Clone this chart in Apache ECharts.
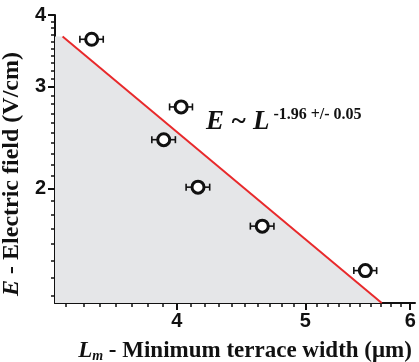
<!DOCTYPE html>
<html>
<head>
<meta charset="utf-8">
<script src="https://cdn.jsdelivr.net/npm/echarts@6/dist/echarts.min.js"></script>
<style>
  html, body { margin: 0; padding: 0; background: #fff; }
  #chart { width: 419px; height: 362px; }
</style>
</head>
<body>
<div id="chart"></div>
<script>
// measured points: L_m (um) and E (V/cm), horizontal error on L_m
const widthL = [3.45, 4.03, 3.91, 4.15, 4.64, 5.55];
const fieldE = [3.63, 2.77, 2.43, 2.01, 1.72, 1.44];
const errL = [0.07, 0.08, 0.08, 0.085, 0.095, 0.11];
// fitted power law, drawn between two end points
const fitL = [3.28, 5.71];
const fitE = [3.67, 1.265];
// axis ticks
const xTicks = [4, 5, 6];
const yTicks = [2, 3, 4];
const xMinorTicks = [3.3, 3.4, 3.5, 3.6, 3.7, 3.8, 3.9, 4, 4.1, 4.2, 4.3, 4.4, 4.5, 4.6, 4.7, 4.8, 4.9,
  5, 5.1, 5.2, 5.3, 5.4, 5.5, 5.6, 5.7, 5.8, 5.9, 6];
const yMinorTicks = [1.3, 1.4, 1.5, 1.6, 1.7, 1.8, 1.9, 2, 2.1, 2.2, 2.3, 2.4, 2.5, 2.6, 2.7, 2.8, 2.9,
  3, 3.1, 3.2, 3.3, 3.4, 3.5, 3.6, 3.7, 3.8, 3.9, 4];
const xRange = [3.237, 6.05];
const yRange = [1.265, 4];

const chart = echarts.init(document.getElementById('chart'));

const points = widthL.map((l, i) => [l, fieldE[i], errL[i]]);
const fitLine = fitL.map((l, i) => [l, fitE[i]]);
// shaded region under the fit, starts at left axis
const shade = [[xRange[0], fitE[0]]].concat(fitLine);

const labelFont = {
  fontFamily: 'Liberation Sans',
  fontWeight: 'bold',
  fontSize: 20,
  color: '#111'
};

const option = {
  animation: false,
  grid: {
    left: 55,
    right: 4,
    top: 15,
    bottom: 59,
    outerBoundsMode: 'none'
  },
  xAxis: [
    {
      type: 'log',
      min: xRange[0],
      max: xRange[1],
      splitLine: { show: false },
      axisLine: { lineStyle: { color: '#111', width: 2 } },
      axisTick: { customValues: xMinorTicks, length: 4, lineStyle: { color: '#111', width: 1.5 } },
      axisLabel: Object.assign({ customValues: xTicks, margin: 8 }, labelFont),
      name: '{i|L}{s|m}{n| - Minimum terrace width (μm)}',
      nameLocation: 'middle',
      nameGap: 37,
      nameTextStyle: {
        padding: [0, 0, 0, 20],
        rich: {
          i: { fontFamily: 'Liberation Serif', fontStyle: 'italic', fontWeight: 'bold', fontSize: 23, color: '#111' },
          s: { fontFamily: 'Liberation Serif', fontStyle: 'italic', fontWeight: 'bold', fontSize: 14, color: '#111', padding: [9, 0, 0, 0] },
          n: { fontFamily: 'Liberation Serif', fontWeight: 'bold', fontSize: 23, color: '#111' }
        }
      }
    },
    {
      type: 'log',
      min: xRange[0],
      max: xRange[1],
      position: 'bottom',
      splitLine: { show: false },
      axisLine: { show: true, lineStyle: { opacity: 0 } },
      axisTick: { customValues: xTicks, length: 7, lineStyle: { color: '#111', width: 2 } },
      axisLabel: { show: false }
    }
  ],
  yAxis: [
    {
      type: 'log',
      min: yRange[0],
      max: yRange[1],
      splitLine: { show: false },
      axisLine: { lineStyle: { color: '#111', width: 2 } },
      axisTick: { customValues: yMinorTicks, length: 4, lineStyle: { color: '#111', width: 1.5 } },
      axisLabel: Object.assign({ customValues: yTicks, margin: 9 }, labelFont),
      name: '{i|E}{n| - Electric field (V/cm)}',
      nameLocation: 'middle',
      nameRotate: 90,
      nameGap: 24,
      nameTextStyle: {
        padding: [0, 30, 0, 0],
        rich: {
          i: { fontFamily: 'Liberation Serif', fontStyle: 'italic', fontWeight: 'bold', fontSize: 24, color: '#111' },
          n: { fontFamily: 'Liberation Serif', fontWeight: 'bold', fontSize: 24, color: '#111' }
        }
      }
    },
    {
      type: 'log',
      min: yRange[0],
      max: yRange[1],
      position: 'left',
      splitLine: { show: false },
      axisLine: { show: true, lineStyle: { opacity: 0 } },
      axisTick: { customValues: yTicks, length: 7, lineStyle: { color: '#111', width: 2 } },
      axisLabel: { show: false }
    }
  ],
  graphic: [
    {
      type: 'text',
      left: 206,
      top: 107,
      style: {
        text: '{e|E ~ L}{p|-1.96 +/- 0.05}',
        rich: {
          e: { fontFamily: 'Liberation Serif', fontStyle: 'italic', fontWeight: 'bold', fontSize: 27, fill: '#111' },
          p: { fontFamily: 'Liberation Serif', fontWeight: 'bold', fontSize: 16, fill: '#111', padding: [0, 0, 14, 4] }
        }
      }
    }
  ],
  series: [
    {
      type: 'line',
      data: shade,
      symbol: 'none',
      lineStyle: { width: 0 },
      areaStyle: { color: '#e5e6e8', opacity: 1, origin: 'start' },
      z: 1
    },
    {
      type: 'line',
      data: fitLine,
      symbol: 'none',
      lineStyle: { color: '#e8292b', width: 2 },
      z: 2
    },
    {
      type: 'custom',
      data: points,
      z: 3,
      renderItem: function (params, api) {
        const y = api.value(1);
        const a = api.coord([api.value(0) - api.value(2), y]);
        const b = api.coord([api.value(0) + api.value(2), y]);
        const st = { stroke: '#111', lineWidth: 1.6 };
        return {
          type: 'group',
          children: [
            { type: 'line', shape: { x1: a[0], y1: a[1], x2: b[0], y2: b[1] }, style: st },
            { type: 'line', shape: { x1: a[0], y1: a[1] - 3.5, x2: a[0], y2: a[1] + 3.5 }, style: st },
            { type: 'line', shape: { x1: b[0], y1: b[1] - 3.5, x2: b[0], y2: b[1] + 3.5 }, style: st }
          ]
        };
      }
    },
    {
      type: 'scatter',
      data: points,
      symbol: 'circle',
      symbolSize: 12,
      itemStyle: { color: '#fff', borderColor: '#111', borderWidth: 3, opacity: 1 },
      z: 4
    }
  ]
};

chart.setOption(option);
</script>
</body>
</html>
